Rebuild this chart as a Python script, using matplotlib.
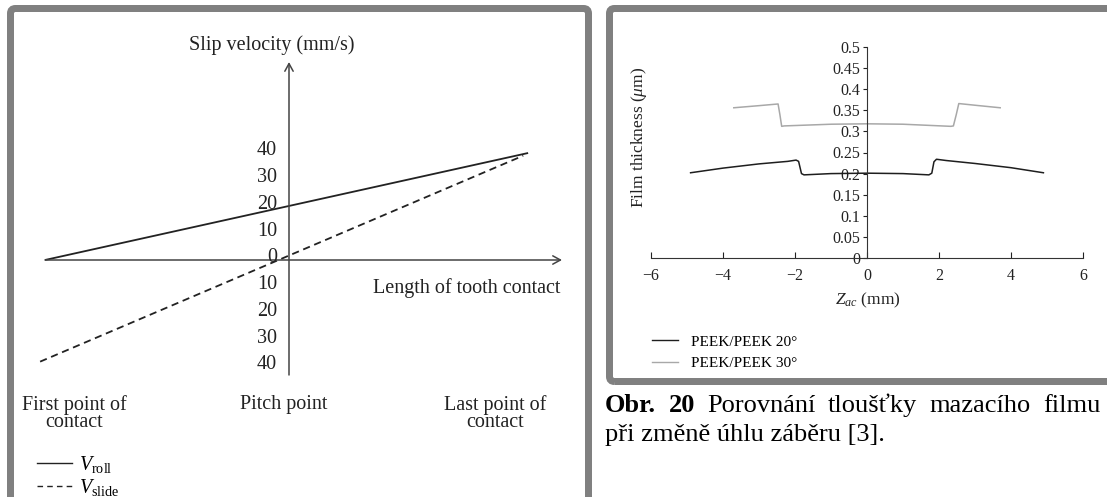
import matplotlib
matplotlib.use("Agg")
import matplotlib.pyplot as plt
from matplotlib.patches import FancyBboxPatch
from matplotlib.lines import Line2D
from matplotlib.transforms import ScaledTranslation, IdentityTransform

plt.rcParams['font.family'] = ['Liberation Serif', 'DejaVu Serif']
plt.rcParams['mathtext.fontset'] = 'custom'
plt.rcParams['mathtext.rm'] = 'Liberation Serif'
plt.rcParams['mathtext.it'] = 'Liberation Serif:italic'
plt.rcParams['mathtext.bf'] = 'Liberation Serif:bold'

# ---------------- data: left schematic ----------------
roll_x = [-1.0, 0.98]
roll_v = [0, 40]
slide_x = [-1.02, 0.96]
slide_v = [-38, 39]
velocity_ticks = [40, 30, 20, 10, 0, -10, -20, -30, -40]
velocity_labels = ['40', '30', '20', '10', '0', '10', '20', '30', '40']
point_labels = ['First point of\ncontact', 'Pitch point', 'Last point of\ncontact']
point_x = [-0.88, -0.02, 0.845]

# ---------------- data: right chart ----------------
z20 = [-4.9, -4.0, -3.0, -2.2, -1.97, -1.9, -1.82, -1.75, -1.0, 0.0, 1.0, 1.72, 1.8, 1.86, 1.93, 2.2, 3.0, 4.0, 4.9]
h20 = [0.202, 0.213, 0.223, 0.229, 0.232, 0.229, 0.200, 0.197, 0.200, 0.201, 0.200, 0.197, 0.201, 0.228, 0.234, 0.231, 0.224, 0.214, 0.202]
z30 = [-3.7, -3.0, -2.47, -2.42, -2.37, -2.3, -1.0, 0.0, 1.0, 2.33, 2.4, 2.48, 2.55, 3.0, 3.7]
h30 = [0.356, 0.361, 0.365, 0.34, 0.312, 0.313, 0.317, 0.318, 0.317, 0.312, 0.313, 0.34, 0.366, 0.362, 0.356]
film_ticks = [0, 0.05, 0.1, 0.15, 0.2, 0.25, 0.3, 0.35, 0.4, 0.45, 0.5]
film_labels = ['0', '0.05', '0.1', '0.15', '0.2', '0.25', '0.3', '0.35', '0.4', '0.45', '0.5']
z_ticks = [-6, -4, -2, 0, 2, 4, 6]
z_labels = ['\u22126', '\u22124', '\u22122', '0', '2', '4', '6']
series_labels = ['PEEK/PEEK 20\u00b0', 'PEEK/PEEK 30\u00b0']

caption1_bold = ['Obr.', '20']
caption1_words = ['Porovn\u00e1n\u00ed', 'tlou\u0161\u0165ky', 'mazac\u00edho', 'filmu']
caption2 = 'p\u0159i zm\u011bn\u011b \u00fahlu z\u00e1b\u011bru [3].'

# ---------------- layout ----------------
W, H = 1107, 497
fig = plt.figure(figsize=(W / 100, H / 100), dpi=100)
fig.patch.set_facecolor('white')

def fx(px):
    return px / W

def fy(py):
    return 1 - py / H

border_col = '#808080'
lw_border = 7 * 72 / 100
fig.patches.append(FancyBboxPatch((10.5, H - 530), 578, 530 - 8.5,
                                  boxstyle='round,pad=0,rounding_size=5',
                                  transform=IdentityTransform(), fill=False,
                                  edgecolor=border_col, linewidth=lw_border))
fig.patches.append(FancyBboxPatch((609.5, H - 381.5), 540, 381.5 - 8.5,
                                  boxstyle='round,pad=0,rounding_size=5',
                                  transform=IdentityTransform(), fill=False,
                                  edgecolor=border_col, linewidth=lw_border))

# ---------------- left schematic ----------------
X0, XS, Y0, YS = 289, 244, 260, 2.675
ax = fig.add_axes([fx(14), fy(497), (585 - 14) / W, (497 - 13) / H])
ax.set_xlim((14 - X0) / XS, (585 - X0) / XS)
ax.set_ylim((Y0 - 497) / YS, (Y0 - 13) / YS)
ax.axis('off')

axis_col = '#444444'
ax.annotate('', xy=((562 - X0) / XS, 0), xytext=(-1.0, 0),
            arrowprops=dict(arrowstyle='->,head_length=0.55,head_width=0.3',
                            lw=1.1, color=axis_col, shrinkA=0, shrinkB=0))
ax.annotate('', xy=(0, (Y0 - 62) / YS), xytext=(0, (Y0 - 375) / YS),
            arrowprops=dict(arrowstyle='->,head_length=0.55,head_width=0.3',
                            lw=1.1, color=axis_col, shrinkA=0, shrinkB=0))

line_col = '#222222'
ax.plot(roll_x, roll_v, color=line_col, lw=1.3, solid_capstyle='butt')
ax.plot(slide_x, slide_v, color=line_col, lw=1.3, linestyle=(0, (4, 2.6)))

fs_left = 14.5
lab_off = ax.transData + ScaledTranslation(-0.12, 0.02, fig.dpi_scale_trans)
for v, lab in zip(velocity_ticks, velocity_labels):
    ax.text(0, v, lab, transform=lab_off, ha='right', va='center',
            fontsize=fs_left, color='#222222')

ax.text((272 - X0) / XS, (Y0 - 45) / YS, 'Slip velocity (mm/s)', ha='center',
        va='center', fontsize=fs_left, color='#222222')
ax.text((373 - X0) / XS, (Y0 - 288) / YS, 'Length of tooth contact', ha='left',
        va='center', fontsize=fs_left, color='#222222')
for xp, lab in zip(point_x, point_labels):
    ax.text(xp, (Y0 - 395) / YS, lab, ha='center', va='top', fontsize=fs_left,
            color='#222222', linespacing=0.88)

h_roll = Line2D([], [], color=line_col, lw=1.0)
h_slide = Line2D([], [], color=line_col, lw=1.0, linestyle=(0, (4, 3)))
fig.legend([h_roll, h_slide], [r'$V_{\mathrm{roll}}$', r'$V_{\mathrm{slide}}$'],
           loc='upper left', bbox_to_anchor=(fx(37), fy(454)),
           frameon=False, fontsize=fs_left, borderpad=0, borderaxespad=0,
           handlelength=1.75, handletextpad=0.35, labelspacing=0.12)

# ---------------- right chart ----------------
ax2 = fig.add_axes([fx(651), fy(258), (1083 - 651) / W, (258 - 47) / H])
ax2.set_xlim(-6, 6)
ax2.set_ylim(0, 0.5)
for s in ['top', 'right']:
    ax2.spines[s].set_visible(False)
ax2.spines['left'].set_position(('data', 0))
ax2.spines['bottom'].set_position(('data', 0))
for s in ['left', 'bottom']:
    ax2.spines[s].set_color('#333333')
    ax2.spines[s].set_linewidth(0.8)
ax2.set_facecolor('none')
ax2.plot(z20, h20, color='#1e1e1e', lw=1.1)
ax2.plot(z30, h30, color='#a8a8a8', lw=1.1)
ax2.set_yticks(film_ticks)
ax2.set_yticklabels(film_labels)
ax2.set_xticks(z_ticks)
ax2.set_xticklabels(z_labels)
ax2.tick_params(axis='y', direction='out', length=3, width=0.8, pad=2,
                labelsize=11.5, colors='#222222')
ax2.tick_params(axis='x', direction='in', length=4, width=0.8, pad=7,
                labelsize=11.5, colors='#222222')
fig.text(fx(639), fy(137), r'Film thickness ($\mu$m)', rotation=90, ha='center',
         va='center', fontsize=12.5, color='#222222')
fig.text(fx(868), fy(300), r'$Z_{ac}$ (mm)', ha='center', va='center',
         fontsize=12.5, color='#222222')
h20l = Line2D([], [], color='#1e1e1e', lw=1.0)
h30l = Line2D([], [], color='#a8a8a8', lw=1.0)
fig.legend([h20l, h30l], series_labels, loc='upper left',
           bbox_to_anchor=(fx(652), fy(335)), frameon=False, fontsize=11,
           borderpad=0, borderaxespad=0, handlelength=1.7, handletextpad=0.85,
           labelspacing=0.5)

# ---------------- caption (justified first line) ----------------
renderer = fig.canvas.get_renderer()
cap_fs = 19
left_px, right_px = 605, 1101
words = [(w, 'bold') for w in caption1_bold] + [(w, 'normal') for w in caption1_words]
texts = []
total = 0
for w, wt in words:
    t = fig.text(0, fy(412), w, fontsize=cap_fs, fontweight=wt, va='baseline',
                 ha='left', color='black')
    bb = t.get_window_extent(renderer)
    texts.append((t, bb.width))
    total += bb.width
gap = (right_px - left_px - total) / (len(words) - 1)
xcur = left_px
for t, wdt in texts:
    t.set_x(fx(xcur))
    xcur += wdt + gap
fig.text(fx(left_px), fy(441), caption2, fontsize=cap_fs, va='baseline',
         ha='left', color='black')

fig.savefig('out.png', dpi=100)
